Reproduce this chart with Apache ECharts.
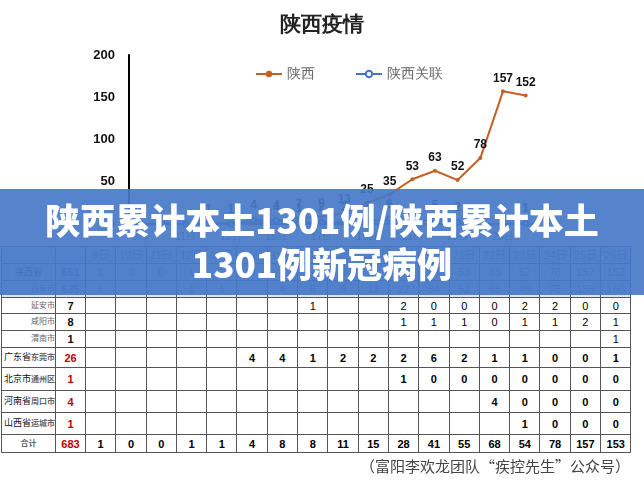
<!DOCTYPE html>
<html>
<head>
<meta charset="UTF-8">
<script src="https://cdn.jsdelivr.net/npm/echarts@6/dist/echarts.min.js"></script>
<style>
  body{margin:0;width:644px;height:485px;position:relative;overflow:hidden;background:#fff;font-family:"Noto Sans CJK SC",sans-serif;}
  #chart{position:absolute;left:0;top:0;width:644px;height:485px;}
  #tbl{position:absolute;left:1px;top:246px;border-collapse:collapse;table-layout:fixed;width:630px;font-family:"Liberation Sans","Noto Sans CJK SC",sans-serif;background:#fff;}
  #tbl td{border:1px solid #555;text-align:center;font-size:11px;padding:0;line-height:12px;overflow:hidden;white-space:nowrap;}
  #tbl td.name{text-align:right;font-size:8px;color:#666;}
  #tbl td.name b{color:#111;font-weight:normal;font-size:9px;}
  #tbl tr.blue td{background:#dbe5f3;color:#4a6fa8;}
  #tbl tr.big td{font-weight:bold;}
  #banner{position:absolute;left:0;top:189px;width:644px;height:106px;background:rgba(70,120,200,0.92);color:#fff;font-weight:900;font-size:35px;text-align:center;line-height:44px;padding-top:8px;box-sizing:border-box;font-family:"Noto Sans CJK SC";}
  #foot{position:absolute;right:14px;top:455px;font-size:15px;color:#444;}
</style>
</head>
<body>
<div id="chart"></div>
<table id="tbl"></table>
<div id="banner">陕西累计本土1301例/陕西累计本土<br>1301例新冠病例</div>
<div id="foot">（富阳李欢龙团队“疾控先生”公众号）</div>
<script>
var days = ['9日','10日','11日','12日','13日','14日','15日','16日','17日','18日','19日','20日','21日','22日','23日','24日','25日','26日'];
var shaanxi = [1,0,0,1,1,0,4,7,9,13,25,35,53,63,52,78,157,152];
var related = [0,0,0,0,0,4,4,1,2,2,3,6,2,5,2,0,0,1];

// table rows: [province, city, total, values, row class, row height]  '' = blank cell
var rows = [
  ['陕西省','',651,[1,0,0,1,1,0,4,7,9,13,25,35,53,63,52,78,157,152],'blue',17],
  ['','西安市',635,[1,'','',1,1,'',4,6,9,13,22,34,52,63,49,75,155,150],'blue',17],
  ['','延安市',7,['','','','','','','',1,'','',2,0,0,0,2,2,0,0],'',16],
  ['','咸阳市',8,['','','','','','','','','','',1,1,1,0,1,1,2,1],'',17],
  ['','渭南市',1,['','','','','','','','','','','','','','','','','',1],'',17],
  ['广东省','东莞市',26,['','','','','',4,4,1,2,2,2,6,2,1,1,0,0,1],'big',20],
  ['北京市','通州区',1,['','','','','','','','','','',1,0,0,0,0,0,0,0],'big',23],
  ['河南省','周口市',4,['','','','','','','','','','','','','',4,0,0,0,0],'big',22],
  ['山西省','运城市',1,['','','','','','','','','','','','','','',1,0,0,0],'big',22],
  ['','合计',683,[1,0,0,1,1,4,8,8,11,15,28,41,55,68,54,78,157,153],'big',18]
];

var html = '<colgroup><col style="width:54px"><col style="width:30px">';
days.forEach(function(){ html += '<col style="width:30.3px">'; });
html += '</colgroup><tr class="blue" style="height:17px"><td class="name"></td><td></td>';
days.forEach(function(d){ html += '<td>' + d + '</td>'; });
html += '</tr>';
rows.forEach(function(r){
  var red = (r[0] && r[0] !== '陕西省') || r[1] === '合计';
  var name = r[0] ? '<b>' + r[0] + '</b>' + r[1] : r[1];
  var center = (r[1] === '合计' || r[0] === '陕西省') ? ' style="text-align:center"' : '';
  html += '<tr class="' + r[4] + '" style="height:' + r[5] + 'px"><td class="name"' + center + '>' + name + '</td>';
  html += '<td style="color:' + (red ? '#c00000' : (r[4] === 'blue' ? '#4a6fa8' : '#111')) + ';font-weight:bold">' + r[2] + '</td>';
  r[3].forEach(function(v){ html += '<td>' + v + '</td>'; });
  html += '</tr>';
});
document.getElementById('tbl').innerHTML = html;

var chart = echarts.init(document.getElementById('chart'));
function lbl(v){ return v.value === 0 ? '' : v.value; }
chart.setOption({
  animation: false,
  title: { text: '陕西疫情', left: 'center', top: 10, textStyle: { fontSize: 21, fontWeight: 'bold', color: '#222' } },
  legend: {
    top: 62, left: 250, itemGap: 40, itemWidth: 26, itemHeight: 8,
    textStyle: { fontSize: 14, color: '#666' },
    data: ['陕西', '陕西关联']
  },
  grid: { left: 129, right: 107, top: 55, bottom: 261 },
  xAxis: {
    type: 'category', data: days,
    axisLine: { lineStyle: { color: '#4472c4', width: 2 } },
    axisTick: { show: false },
    axisLabel: { interval: 1, fontSize: 10, color: '#444' }
  },
  yAxis: {
    type: 'value', min: 0, max: 200, interval: 50,
    axisLine: { show: true, lineStyle: { color: '#000', width: 2 } },
    splitLine: { show: false },
    axisLabel: { fontSize: 13, fontWeight: 'bold', color: '#111', margin: 14 }
  },
  series: [
    {
      name: '陕西', type: 'line', data: shaanxi,
      symbol: 'circle', symbolSize: 4,
      lineStyle: { color: '#c65f24', width: 2 }, itemStyle: { color: '#c65f24' },
      label: { show: true, position: 'top', fontSize: 12, fontWeight: 'bold', color: '#111', formatter: lbl }
    },
    {
      name: '陕西关联', type: 'line', data: related,
      symbol: 'emptyCircle', symbolSize: 5,
      lineStyle: { color: '#4472c4', width: 2 }, itemStyle: { color: '#4472c4' },
      label: { show: true, position: 'top', fontSize: 12, fontWeight: 'bold', color: '#111', formatter: lbl }
    }
  ]
});
</script>
</body>
</html>
